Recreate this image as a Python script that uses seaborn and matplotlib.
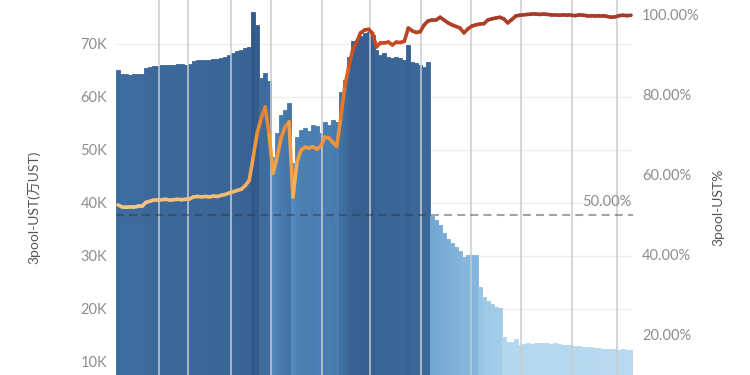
import numpy as np
import pandas as pd
import matplotlib
matplotlib.use("Agg")
import matplotlib.pyplot as plt
import seaborn as sns
from matplotlib.collections import LineCollection
from matplotlib.colors import LinearSegmentedColormap, Normalize
import matplotlib.transforms as mtransforms

# ---------------- data ----------------
# 3pool UST amount, in K (万UST), one bar per day
amount_k = [
    65.1, 64.3, 64.4, 64.2, 64.3, 64.3, 64.4, 65.5, 65.6, 65.8,
    65.8, 66.0, 66.0, 66.1, 66.0, 66.2, 66.2, 66.1, 66.2, 66.8,
    66.9, 67.0, 67.0, 66.9, 67.1, 67.2, 67.4, 67.6, 68.0, 68.3,
    68.6, 68.9, 69.2, 69.4, 76.0, 73.6, 63.6, 64.5, 63.0, 48.7,
    53.2, 56.6, 57.5, 58.9, 47.5, 52.5, 53.8, 54.2, 53.5, 54.7,
    54.5, 53.2, 55.3, 54.8, 55.7, 55.3, 61.0, 63.2, 67.5, 70.5,
    70.7, 71.5, 72.0, 72.3, 71.7, 68.9, 67.9, 68.3, 67.6, 67.4,
    67.5, 67.3, 67.0, 69.8, 66.6, 66.5, 66.0, 65.7, 66.6, 37.5,
    36.8, 35.8, 34.3, 33.3, 32.5, 31.7, 31.0, 29.8, 30.2, 30.2,
    30.1, 24.2, 22.3, 21.5, 21.0, 20.4, 20.2, 14.7, 13.8, 13.8,
    14.3, 13.3, 13.4, 13.5, 13.4, 13.5, 13.6, 13.5, 13.5, 13.4,
    13.5, 13.4, 13.3, 13.2, 13.2, 13.1, 13.0, 12.9, 12.9, 12.8,
    12.7, 12.6, 12.5, 12.5, 12.4, 12.4, 12.3, 12.4, 12.3, 12.3,
]
# share of UST in 3pool, %
share_pct = [
    52.4, 51.9, 51.8, 51.9, 51.9, 52.0, 52.0, 53.0, 53.3, 53.6,
    53.6, 53.7, 53.8, 53.6, 53.7, 53.8, 53.7, 53.8, 53.9, 54.4,
    54.5, 54.4, 54.5, 54.4, 54.6, 54.5, 54.8, 55.0, 55.4, 55.7,
    56.0, 56.3, 57.2, 58.5, 64.3, 70.3, 74.0, 76.8, 70.0, 60.3,
    64.3, 69.0, 71.8, 73.1, 54.4, 63.0, 66.0, 66.8, 66.6, 66.9,
    66.3, 67.0, 69.3, 69.1, 68.0, 67.0, 74.0, 81.8, 86.8, 91.0,
    93.0, 95.3, 96.0, 96.2, 95.2, 91.8, 92.8, 92.8, 93.0, 92.3,
    93.0, 92.9, 93.2, 96.5, 95.8, 95.4, 95.6, 97.3, 98.3, 98.5,
    98.5, 99.2, 98.5, 97.8, 97.3, 96.9, 96.5, 95.3, 96.3, 97.0,
    97.3, 97.5, 97.6, 98.5, 98.8, 99.0, 99.2, 98.8, 97.8, 98.6,
    99.5, 99.7, 99.8, 99.9, 100.0, 100.0, 99.9, 100.0, 99.9, 99.8,
    99.8, 99.7, 99.8, 99.7, 99.7, 99.6, 99.8, 99.7, 99.6, 99.6,
    99.5, 99.6, 99.6, 99.4, 99.2, 99.3, 99.6, 99.7, 99.6, 99.7,
]
day_labels = [f"d{i}" for i in range(len(amount_k))]

left_ticks = [10, 20, 30, 40, 50, 60, 70]
left_tick_labels = ["10K", "20K", "30K", "40K", "50K", "60K", "70K"]
right_ticks = [20, 40, 60, 80, 100]
right_tick_labels = ["20.00%", "40.00%", "60.00%", "80.00%", "100.00%"]
ref_level = 50
ref_label = "50.00%"
left_label = "3pool-UST(万UST)"
right_label = "3pool-UST%"
# date tick positions (in bar-index units), labels fall outside the crop
date_tick_pos = [10.3, 17.5, 28.4, 38.5, 51.3, 63.4, 76.2, 88.8, 101.3, 114.2, 125.5]

# ---------------- style ----------------
sns.set_style("white")
FONT = ["Lato", "Noto Sans CJK SC", "DejaVu Sans"]
plt.rcParams["font.family"] = FONT
TICK_C = "#8e8e8e"
LABEL_C = "#555555"

bar_cmap = LinearSegmentedColormap.from_list(
    "bars",
    [(0.00, "#bedcf0"), (0.06, "#b3d7ee"), (0.18, "#9cc8e6"),
     (0.32, "#80b2d9"), (0.41, "#72a6d2"), (0.56, "#5589bd"),
     (0.66, "#4a7db1"), (0.81, "#3c6a9c"), (0.91, "#375f8f"), (1.00, "#2e5686")])
bar_norm = Normalize(10, 78)
line_cmap = LinearSegmentedColormap.from_list(
    "line",
    [(0.00, "#f6cc95"), (0.20, "#f5aa55"), (0.44, "#f08a2c"),
     (0.70, "#dc6424"), (0.86, "#c54a1f"), (1.00, "#a53a2a")])
line_norm = Normalize(50, 100)

df = pd.DataFrame({"day": day_labels, "amount": amount_k, "share": share_pct})
palette = {d: bar_cmap(bar_norm(v)) for d, v in zip(day_labels, amount_k)}

fig = plt.figure(figsize=(7.5, 3.75), dpi=100)
ax = fig.add_axes([116 / 750, -40 / 375, 517 / 750, 415 / 375])

sns.barplot(data=df, x="day", y="amount", hue="day", palette=palette,
            legend=False, width=1.0, dodge=False, saturation=1,
            linewidth=0, ax=ax)
for p in ax.patches:
    p.set_edgecolor(p.get_facecolor())
    p.set_linewidth(0.6)

n = len(amount_k)
ax.set_xlim(-0.5, n - 0.5)
ax.set_ylim(0, 78.3)
ax.set_xticks(date_tick_pos)
ax.set_xticklabels([""] * len(date_tick_pos))
ax.set_xlabel("")
ax.set_yticks(left_ticks)
ax.set_yticklabels(left_tick_labels)
ax.tick_params(axis="both", length=0, labelsize=10.5, labelcolor=TICK_C, pad=6.5)
ax.grid(axis="y", color="#eeeeee", linewidth=1)
ax.grid(axis="x", visible=False)
ax.set_axisbelow(True)
for xp in date_tick_pos:
    ax.axvline(xp, color="#c8ccd2", linewidth=1.1, zorder=3)
for s in ax.spines.values():
    s.set_visible(False)
ax.set_ylabel(left_label, fontsize=10, color=LABEL_C)
ax.yaxis.set_label_coords(-0.147, 0.5)

ax2 = ax.twinx()
ax2.set_ylim(0, 103.5)
ax2.set_yticks(right_ticks)
ax2.set_yticklabels(right_tick_labels)
ax2.tick_params(axis="y", length=0, labelsize=10.5, labelcolor=TICK_C, pad=6.5)
for s in ax2.spines.values():
    s.set_visible(False)
ax2.set_ylabel(right_label, fontsize=10, color=LABEL_C)
ax2.yaxis.set_label_coords(1.153, 0.5)

ax2.axhline(ref_level, color="#333333", alpha=0.45, linewidth=1.5,
            dashes=(3.8, 2.5), zorder=2)
trans = mtransforms.blended_transform_factory(ax2.transAxes, ax2.transData)
ax2.text(0.997, ref_level + 1.3, ref_label, transform=trans, ha="right",
         va="bottom", fontsize=10.5, color=TICK_C)

xs = np.arange(n)
pts = np.column_stack([xs, share_pct])
segs = np.stack([pts[:-1], pts[1:]], axis=1)
mid = (np.array(share_pct[:-1]) + np.array(share_pct[1:])) / 2
lc = LineCollection(segs, colors=line_cmap(line_norm(mid)), linewidths=2.6,
                    capstyle="round", joinstyle="round", zorder=4)
ax2.add_collection(lc)

fig.savefig("out.png", dpi=100)
